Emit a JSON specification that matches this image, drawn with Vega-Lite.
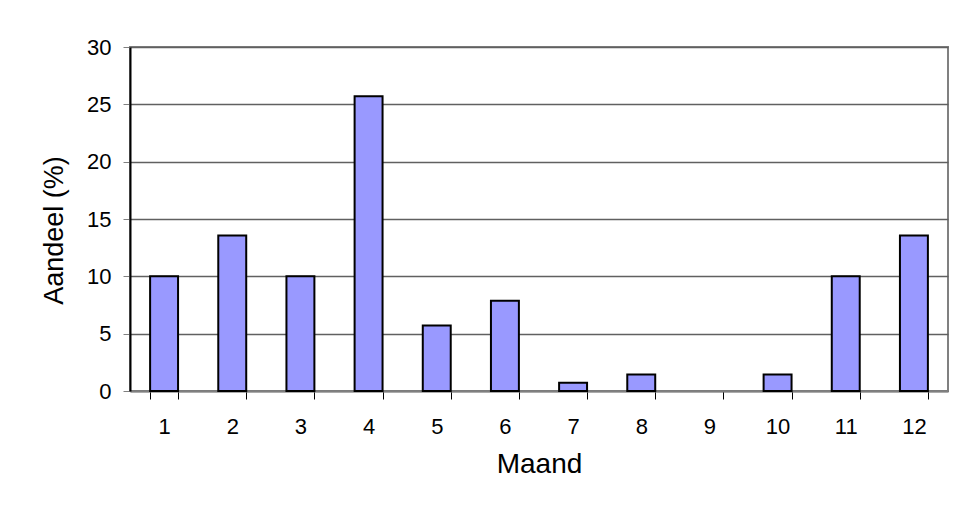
{
  "$schema": "https://vega.github.io/schema/vega-lite/v6.json",
  "width": 818,
  "height": 344,
  "autosize": {"type": "none"},
  "padding": {"left": 130, "top": 47, "right": 8, "bottom": 125},
  "background": "white",
  "config": {
    "font": "Liberation Sans",
    "view": {"stroke": "#808080", "strokeWidth": 2}
  },
  "data": {
    "values": [
      {"Maand": "1", "Aandeel": 10.0},
      {"Maand": "2", "Aandeel": 13.57},
      {"Maand": "3", "Aandeel": 10.0},
      {"Maand": "4", "Aandeel": 25.71},
      {"Maand": "5", "Aandeel": 5.71},
      {"Maand": "6", "Aandeel": 7.86},
      {"Maand": "7", "Aandeel": 0.71},
      {"Maand": "8", "Aandeel": 1.43},
      {"Maand": "9", "Aandeel": 0},
      {"Maand": "10", "Aandeel": 1.43},
      {"Maand": "11", "Aandeel": 10.0},
      {"Maand": "12", "Aandeel": 13.57}
    ]
  },
  "mark": {"type": "bar", "color": "#9999FF", "stroke": "black"},
  "encoding": {
    "strokeWidth": {"condition": {"test": "datum.Aandeel > 0", "value": 2}, "value": 0},
    "x": {
      "field": "Maand",
      "type": "ordinal",
      "sort": null,
      "scale": {"paddingInner": 0.59, "paddingOuter": 0.295},
      "axis": {
        "title": "Maand",
        "titleFontSize": 28,
        "titleFontWeight": "normal",
        "titleColor": "black",
        "titlePadding": 13,
        "labelAngle": 0,
        "labelFontSize": 22,
        "labelColor": "black",
        "labelPadding": 17,
        "tickBand": "extent",
        "tickSize": 8,
        "tickColor": "black",
        "domainColor": "#808080",
        "domainWidth": 2,
        "grid": false
      }
    },
    "y": {
      "field": "Aandeel",
      "type": "quantitative",
      "scale": {"domain": [0, 30], "nice": false},
      "axis": {
        "title": "Aandeel (%)",
        "titleFontSize": 27,
        "titleFontWeight": "normal",
        "titleColor": "black",
        "titlePadding": 18,
        "titleY": 183,
        "values": [0, 5, 10, 15, 20, 25, 30],
        "labelFontSize": 22,
        "labelColor": "black",
        "labelPadding": 12,
        "tickSize": 7,
        "tickColor": "#808080",
        "domainColor": "black",
        "domainWidth": 2,
        "grid": true,
        "gridColor": "#606060",
        "gridWidth": 1.5
      }
    }
  }
}
